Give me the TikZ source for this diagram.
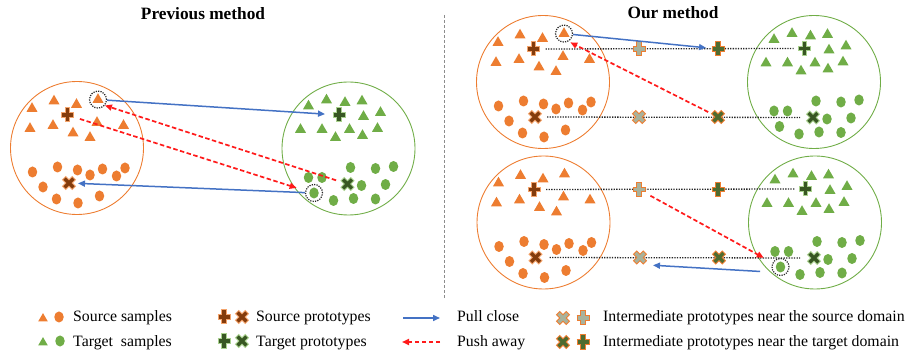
\documentclass[tikz,border=0pt]{standalone}
\usepackage{fontspec}
\setmainfont{Liberation Serif}
\usetikzlibrary{shapes.geometric,arrows.meta,calc}

\definecolor{srcor}{HTML}{ED7D31}
\definecolor{tgtgr}{HTML}{70AD47}
\definecolor{srcdark}{HTML}{843C0C}
\definecolor{srcglow}{HTML}{F4A46C}
\definecolor{tgtdark}{HTML}{385723}
\definecolor{tgtglow}{HTML}{A9D18E}
\definecolor{midlight}{HTML}{A8B29C}
\definecolor{middark}{HTML}{4E6B30}
\definecolor{pullblue}{HTML}{4472C4}
\definecolor{pushred}{HTML}{FF1A1A}

\tikzset{
  smptri/.style={regular polygon, regular polygon sides=3, minimum size=12.7pt,
    inner sep=0pt, fill=#1, yshift=-1.6pt},
  smpdot/.style={ellipse, minimum width=9.5pt, minimum height=11pt, inner sep=0pt, fill=#1},
  clusterring/.style={circle, draw=#1, line width=0.9pt, minimum size=133pt, inner sep=0pt},
  hilite/.style={circle, draw=black!85, line width=1.2pt, dash pattern=on 1.2pt off 1.2pt,
    minimum size=17pt, inner sep=0pt},
  guide/.style={draw=black!85, line width=1.3pt, dash pattern=on 1.3pt off 1.3pt},
  pull/.style={draw=pullblue, line width=1.5pt, -{Triangle[length=7pt,width=6pt]}},
  push/.style={draw=pushred, line width=1.7pt, dash pattern=on 4.5pt off 2.5pt,
    -{Triangle[length=7pt,width=6pt]}},
  pics/plusmark/.style 2 args={code={
    \draw[line width=5.8pt,#2] (-6.5,0)--(6.5,0) (0,-7.5)--(0,7.5);
    \draw[line width=3.6pt,#1] (-5.5,0)--(5.5,0) (0,-6.5)--(0,6.5);}},
  pics/crossmark/.style 2 args={code={
    \draw[line width=5.6pt,#2] (-5.2,-5.2)--(5.2,5.2) (-5.2,5.2)--(5.2,-5.2);
    \draw[line width=3.4pt,#1] (-4.4,-4.4)--(4.4,4.4) (-4.4,4.4)--(4.4,-4.4);}},
  lbl/.style={anchor=base west, font=\fontsize{15.8}{18}\selectfont, inner sep=0pt},
  ttl/.style={anchor=base, font=\bfseries\fontsize{17.3}{20}\selectfont, inner sep=0pt},
}

% source-domain cluster: #1 name prefix, #2 centre
\newcommand\srcgroup[2]{%
  \begin{scope}[shift={#2}]
    \node[clusterring=srcor] (#1ring) at (0,0) {};
    \foreach \px/\py [count=\i] in {-45/-41,-23/-48.5,-0.5/-45,21/-50,-47/-21,-24/-24,
        -4/-16.5,20/-27,46.5/-24,13/-12}
      \node[smptri=srcor] (#1t\i) at (\px,\py) {};
    \foreach \px/\py [count=\i] in {-44.5/24,-19.5/19,0.5/22,13/27,25.5/21,39.5/28,48/20,
        -34/39,-20.5/51,1/55,22.5/48}
      \node[smpdot=srcor] (#1c\i) at (\px,\py) {};
    \coordinate (#1plus) at (-9.5,-33);
    \coordinate (#1cross) at (-8,35);
    \pic at (#1plus) {plusmark={srcdark}{srcglow}};
    \pic at (#1cross) {crossmark={srcdark}{srcglow}};
  \end{scope}}

% target-domain cluster: #1 name prefix, #2 centre
\newcommand\tgtgroup[2]{%
  \begin{scope}[shift={#2}]
    \node[clusterring=tgtgr] (#1ring) at (0,0) {};
    \foreach \px/\py [count=\i] in {-40/-44,-22/-50,-3.5/-47.5,13.5/-49,15/-33.5,32/-37.5,
        -48/-20.5,-26.5/-20.5,-13/-12.5,1/-20.5,14/-14.5,29/-21.5}
      \node[smptri=tgtgr] (#1t\i) at (\px,\py) {};
    \foreach \px/\py [count=\i] in {2/19,27/20,45/18,-40/29,-26.5/29,13/37,37/36,
        -34.5/44.5,-15/52,5/50,27/50.5}
      \node[smpdot=tgtgr] (#1c\i) at (\px,\py) {};
    \coordinate (#1plus) at (-9.5,-33.5);
    \coordinate (#1cross) at (-1,35.5);
    \pic at (#1plus) {plusmark={tgtdark}{tgtglow}};
    \pic at (#1cross) {crossmark={tgtdark}{tgtglow}};
  \end{scope}}

\begin{document}
\begin{tikzpicture}[x=1pt,y=-1pt]
\useasboundingbox (0,0) rectangle (907,352);

% titles and separator
\node[ttl] (ttlA) at (203,19.5) {Previous method};
\node[ttl] (ttlB) at (673,18.5) {Our method};
\coordinate (sepT) at (444,15);
\coordinate (sepB) at (444,298);
\draw[black!45, line width=0.9pt, dash pattern=on 3pt off 2pt] (sepT) -- (sepB);

% ---------- previous method ----------
\srcgroup{Ls}{(77,148)}
\tgtgroup{Lg}{(348.5,148.5)}
\node[hilite] (Lhl) at (Lst4) {};
\node[hilite] (Lhlg) at (Lgc8) {};
\draw[pull, shorten >=14pt] (Lhl) -- (Lgplus);
\draw[pull, shorten >=9pt] (Lhlg) -- (Lscross);
\draw[push, shorten <=12pt] (Lgcross) -- (Lhl.-40);
\draw[push, shorten <=13pt, shorten >=9pt] (Lsplus) -- (Lhlg.165);

% ---------- our method: upper pair ----------
\srcgroup{Ts}{(543,82)}
\tgtgroup{Tg}{(814,82)}
\node[hilite] (Thl) at (Tst4) {};
\draw[guide, shorten <=12pt, shorten >=11pt] (Tsplus) -- (Tgplus);
\draw[guide, shorten <=12pt, shorten >=13pt] (Tscross) -- (Tgcross);
\coordinate (TisP) at (639,49);
\coordinate (TitP) at (718,49);
\coordinate (TisX) at (639,117);
\coordinate (TitX) at (718,117);
\pic at (TisP) {plusmark={midlight}{srcor}};
\pic at (TitP) {plusmark={middark}{srcor}};
\pic at (TisX) {crossmark={midlight}{srcor}};
\pic at (TitX) {crossmark={middark}{srcor}};
\draw[pull, shorten >=12pt] (Thl) -- (TitP);
\draw[push, shorten <=11pt, shorten >=2pt] (TitX) -- (Thl.-60);

% ---------- our method: lower pair ----------
\srcgroup{Bs}{(543.5,222.5)}
\tgtgroup{Bg}{(815,222.5)}
\node[hilite] (Bhlg) at (Bgc8) {};
\draw[guide, shorten <=12pt, shorten >=11pt] (Bsplus) -- (Bgplus);
\draw[guide, shorten <=14pt, shorten >=14pt] (Bscross) -- (Bgcross);
\coordinate (BisP) at (639,189.5);
\coordinate (BitP) at (718,189.5);
\coordinate (BisX) at (640,257.5);
\coordinate (BitX) at (719,257.5);
\pic at (BisP) {plusmark={midlight}{srcor}};
\pic at (BitP) {plusmark={middark}{srcor}};
\pic at (BisX) {crossmark={midlight}{srcor}};
\pic at (BitX) {crossmark={middark}{srcor}};
\draw[push, shorten <=13pt, shorten >=10pt] (BisP) -- (Bhlg);
\draw[pull, shorten <=13pt, shorten >=13pt] (Bhlg.215) -- ([yshift=-7pt]BisX);

% ---------- legend ----------
\node[smptri=srcor, minimum size=11pt] (lgT1) at (43,317) {};
\node[smpdot=srcor] (lgC1) at (59,317) {};
\node[lbl] (lgS) at (73,322) {Source samples};
\node[smptri=tgtgr, minimum size=11pt] (lgT2) at (43,341) {};
\node[smpdot=tgtgr] (lgC2) at (60,341) {};
\node[lbl] (lgG) at (73,346.5) {Target\ \ samples};

\coordinate (lgP1) at (224,317);
\coordinate (lgX1) at (242,317);
\coordinate (lgP2) at (224,341);
\coordinate (lgX2) at (242,341);
\pic at (lgP1) {plusmark={srcdark}{srcglow}};
\pic at (lgX1) {crossmark={srcdark}{srcglow}};
\pic at (lgP2) {plusmark={tgtdark}{tgtglow}};
\pic at (lgX2) {crossmark={tgtdark}{tgtglow}};
\node[lbl] (lgSP) at (256,322) {Source prototypes};
\node[lbl] (lgTP) at (256,346.5) {Target prototypes};

\coordinate (lgA1) at (403,318);
\coordinate (lgA2) at (440,318);
\coordinate (lgB1) at (440,342);
\coordinate (lgB2) at (402,342);
\draw[pull] (lgA1) -- (lgA2);
\draw[push] (lgB1) -- (lgB2);
\node[lbl] (lgPC) at (457,322) {Pull close};
\node[lbl] (lgPA) at (457,346.5) {Push away};

\coordinate (lgIX1) at (563,318);
\coordinate (lgIP1) at (583,318);
\coordinate (lgIX2) at (563,342);
\coordinate (lgIP2) at (583,342);
\pic at (lgIX1) {crossmark={midlight}{srcor}};
\pic at (lgIP1) {plusmark={midlight}{srcor}};
\pic at (lgIX2) {crossmark={middark}{srcor}};
\pic at (lgIP2) {plusmark={middark}{srcor}};
\node[lbl] (lgIS) at (603,322) {Intermediate prototypes near the source domain};
\node[lbl] (lgIT) at (603,346.5) {Intermediate prototypes near the target domain};
\end{tikzpicture}
\end{document}
